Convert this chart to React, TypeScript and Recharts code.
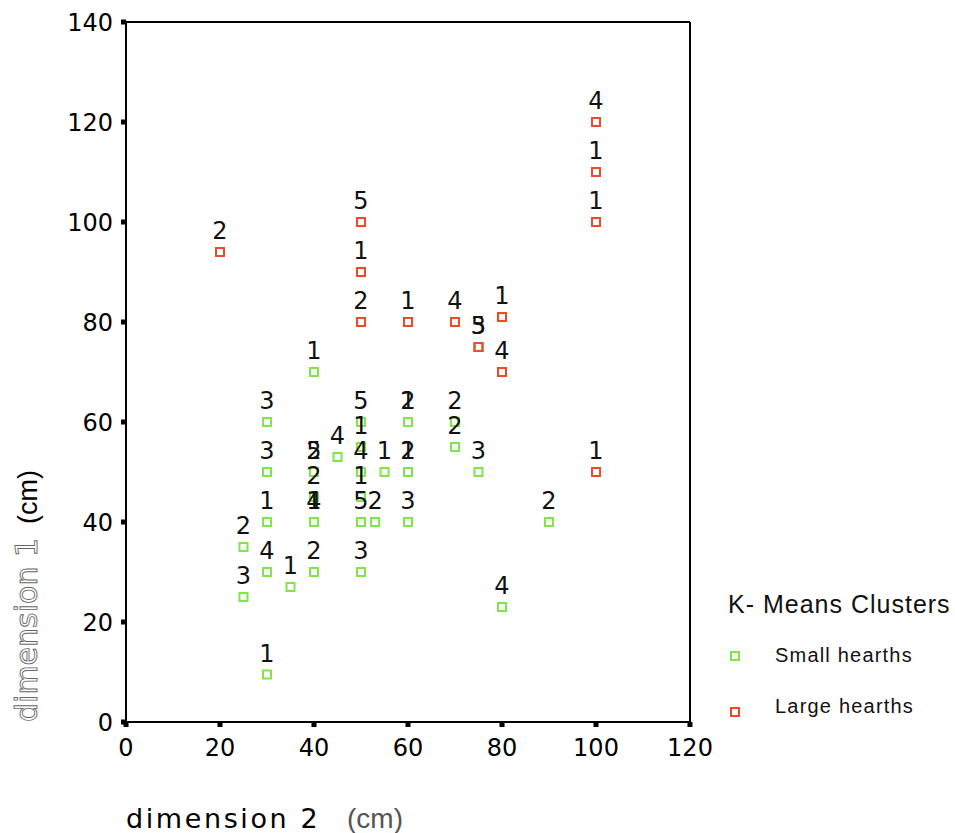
import React from 'react';
import {
  ScatterChart,
  Scatter,
  XAxis,
  YAxis,
  ReferenceLine,
  Legend,
  Label
} from 'recharts';

// small hearths (green)
const smallX = [30, 50, 60, 60, 70, 70, 30, 40, 40, 45, 50, 50, 55, 60, 60, 75, 40, 50, 30, 40, 40, 50, 53, 60, 25, 30, 35, 40, 50, 25, 30, 90, 80, 40];
const smallY = [60, 60, 60, 60, 60, 55, 50, 50, 50, 53, 55, 50, 50, 50, 50, 50, 45, 45, 40, 40, 40, 40, 40, 40, 35, 30, 27, 30, 30, 25, 9.5, 40, 23, 70];
const smallLabel = ['3', '5', '2', '1', '2', '2', '3', '5', '2', '4', '1', '4', '1', '2', '1', '3', '2', '1', '1', '4', '1', '5', '2', '3', '2', '4', '1', '2', '3', '3', '1', '2', '4', '1'];

// large hearths (red)
const largeX = [20, 50, 50, 50, 60, 70, 80, 75, 75, 80, 100, 100, 100, 100];
const largeY = [94, 100, 90, 80, 80, 80, 81, 75, 75, 70, 120, 110, 100, 50];
const largeLabel = ['2', '5', '1', '2', '1', '4', '1', '5', '3', '4', '4', '1', '1', '1'];

const xTicks = [0, 20, 40, 60, 80, 100, 120];
const yTicks = [0, 20, 40, 60, 80, 100, 120, 140];

const GREEN = '#7fe64a';
const RED = '#ee4a2a';

const smallData = smallX.map((x, i) => ({ x, y: smallY[i], label: smallLabel[i] }));
const largeData = largeX.map((x, i) => ({ x, y: largeY[i], label: largeLabel[i] }));

const makeShape = (color: string) => (props: any) => {
  const { cx, cy, payload } = props;
  return (
    <g>
      <rect x={cx - 4} y={cy - 4} width={8} height={8} fill="none" stroke={color} strokeWidth={2} />
      <text x={cx} y={cy - 13} textAnchor="middle" fontSize={24} fontFamily="DejaVu Sans" fill="#111">
        {payload.label}
      </text>
    </g>
  );
};

const renderYLabel = () => (
  <g transform="translate(37,722) rotate(-90)">
    <text x={0} y={0} fontFamily="DejaVu Sans" fontSize={30}>
      <tspan fill="none" stroke="#666" strokeWidth={0.9}>dimension 1</tspan>
      <tspan dx={14} fill="#000" stroke="none" fontFamily="Liberation Sans" fontSize={27}>(cm)</tspan>
    </text>
  </g>
);

const renderXLabel = () => (
  <text x={126} y={828} fontFamily="DejaVu Sans" fontSize={27} letterSpacing={2.6} fill="#000">
    dimension 2
    <tspan x={347} fill="#555" fontFamily="Liberation Sans" fontSize={28} letterSpacing={0}>(cm)</tspan>
  </text>
);

const renderLegend = () => (
  <svg width={255} height={160}>
    <text x={28} y={43} fontFamily="Liberation Sans" fontSize={25} letterSpacing={1} fill="#111">K- Means Clusters</text>
    <rect x={31} y={82} width={8} height={8} fill="none" stroke={GREEN} strokeWidth={2} />
    <text x={75} y={92} fontFamily="Liberation Sans" fontSize={20} letterSpacing={1.2} fill="#111">Small hearths</text>
    <rect x={31} y={138} width={8} height={8} fill="none" stroke={RED} strokeWidth={2} />
    <text x={75} y={143} fontFamily="Liberation Sans" fontSize={20} letterSpacing={1.2} fill="#111">Large hearths</text>
  </svg>
);

export default function App() {
  const tickStyle = { fontSize: 24, fontFamily: 'DejaVu Sans', fill: '#000' };
  return (
    <div style={{ position: 'absolute', left: 0, top: 0, width: 955, height: 833, background: '#fff' }}>
      <ScatterChart width={955} height={833} margin={{ top: 22, right: 265, bottom: 51, left: 56 }}>
        <XAxis
          type="number"
          dataKey="x"
          domain={[0, 120]}
          ticks={xTicks}
          height={60}
          tick={tickStyle}
          tickSize={5}
          tickMargin={12}
          axisLine={{ stroke: '#000', strokeWidth: 2 }}
          tickLine={{ stroke: '#000', strokeWidth: 5 }}
        >
          <Label content={renderXLabel} />
        </XAxis>
        <YAxis
          type="number"
          dataKey="y"
          domain={[0, 140]}
          ticks={yTicks}
          width={70}
          tick={tickStyle}
          tickSize={5}
          tickMargin={8}
          axisLine={{ stroke: '#000', strokeWidth: 2 }}
          tickLine={{ stroke: '#000', strokeWidth: 5 }}
        >
          <Label content={renderYLabel} />
        </YAxis>
        <ReferenceLine y={140} stroke="#000" strokeWidth={2} />
        <ReferenceLine x={120} stroke="#000" strokeWidth={2} />
        <Legend
          layout="vertical"
          align="center"
          verticalAlign="middle"
          content={renderLegend}
          wrapperStyle={{ left: 700, top: 570, width: 255, height: 160 }}
        />
        <Scatter name="Small hearths" data={smallData} shape={makeShape(GREEN)} isAnimationActive={false} />
        <Scatter name="Large hearths" data={largeData} shape={makeShape(RED)} isAnimationActive={false} />
      </ScatterChart>
    </div>
  );
}
